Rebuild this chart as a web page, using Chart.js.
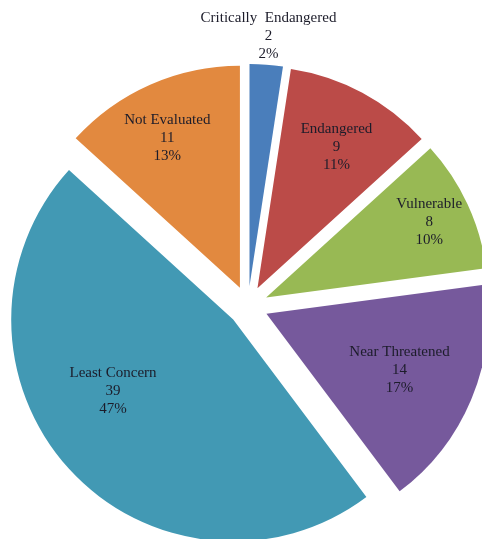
<!DOCTYPE html>
<html>
<head>
<meta charset="utf-8">
<style>
  html, body { margin: 0; padding: 0; background: #fff; }
  #wrap { width: 482px; height: 539px; position: relative; }
</style>
<script src="https://cdn.jsdelivr.net/npm/chart.js@4/dist/chart.umd.min.js"></script>
</head>
<body>
<div id="wrap"><canvas id="chart"></canvas></div>
<script>
const categories = ['Critically  Endangered', 'Endangered', 'Vulnerable', 'Near Threatened', 'Least Concern', 'Not Evaluated'];
const counts = [2, 9, 8, 14, 39, 11];
const percents = ['2%', '11%', '10%', '17%', '47%', '13%'];

const colors = ['#4a7ebb', '#bb4b48', '#98b954', '#76599c', '#4299b4', '#e2893f'];
// label placement: fraction of the radius, and a small turn (degrees) off the slice middle
const labelRadius = [1.13, 0.73, 0.81, 0.65, 0.63, 0.75];
const labelTurn = [0, 1, 0, 0, 11.5, -2];

const EXPLODE = 20;

// every slice pulled out by the same distance, without the radius growth v4 adds for offset
const ArcElement = Chart.registry.getElement('arc');
const baseArcDraw = ArcElement.prototype.draw;
ArcElement.prototype.draw = function (ctx) {
  const mid = (this.startAngle + this.endAngle) / 2;
  ctx.save();
  ctx.translate(Math.cos(mid) * EXPLODE, Math.sin(mid) * EXPLODE);
  baseArcDraw.call(this, ctx);
  ctx.restore();
};

// labels drawn inside (or just outside) each slice, three lines each
const sliceLabels = {
  id: 'sliceLabels',
  afterDatasetsDraw(chart) {
    const ctx = chart.ctx;
    const meta = chart.getDatasetMeta(0);
    ctx.save();
    ctx.font = '15px "Liberation Serif", "Times New Roman", serif';
    ctx.fillStyle = '#1c1c2a';
    ctx.textAlign = 'center';
    ctx.textBaseline = 'middle';
    meta.data.forEach((arc, i) => {
      const p = arc.getProps(['x', 'y', 'startAngle', 'endAngle', 'outerRadius'], true);
      const mid = (p.startAngle + p.endAngle) / 2;
      const cx = p.x + Math.cos(mid) * EXPLODE;
      const cy = p.y + Math.sin(mid) * EXPLODE;
      const a = mid + labelTurn[i] * Math.PI / 180;
      const r = p.outerRadius * labelRadius[i];
      const x = cx + Math.cos(a) * r;
      const y = cy + Math.sin(a) * r;
      const lines = [categories[i], String(counts[i]), percents[i]];
      lines.forEach((t, k) => ctx.fillText(t, x, y + (k - 1) * 18));
    });
    ctx.restore();
  }
};

new Chart(document.getElementById('chart'), {
  type: 'pie',
  data: {
    labels: categories,
    datasets: [{
      data: counts,
      backgroundColor: colors,
      borderWidth: 0,
      clip: false,
    }],
  },
  options: {
    responsive: true,
    maintainAspectRatio: false,
    animation: false,
    radius: 222,
    layout: { padding: { left: 14, right: 0, top: 73, bottom: 0 } },
    plugins: {
      legend: { display: false },
      tooltip: { enabled: false },
    },
  },
  plugins: [sliceLabels],
});
</script>
</body>
</html>
